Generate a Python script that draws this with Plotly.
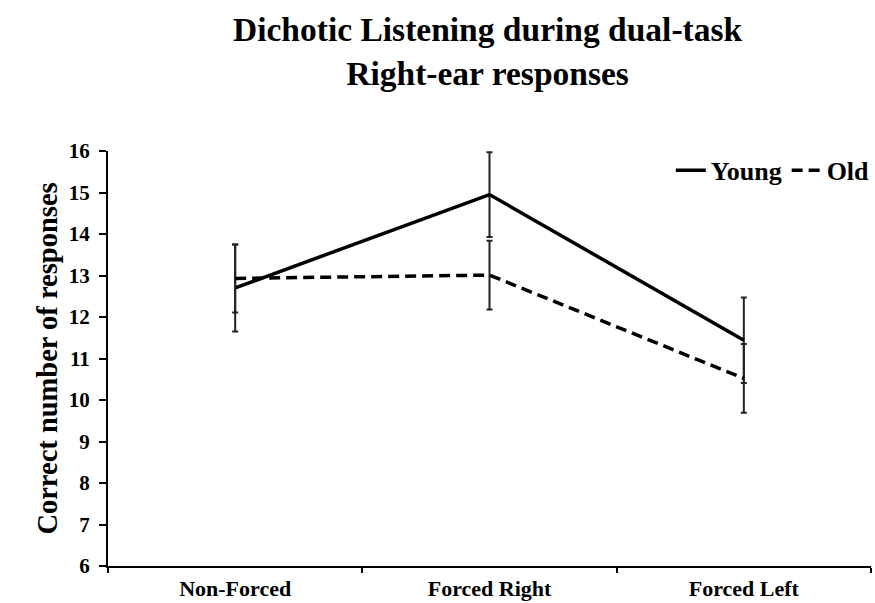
import plotly.graph_objects as go

categories = ["Non-Forced", "Forced Right", "Forced Left"]
young = [12.70, 14.95, 11.44]
young_err = [1.05, 1.02, 1.03]
old = [12.93, 13.01, 10.52]
old_err = [0.82, 0.83, 0.83]
y_ticks = list(range(6, 17))

FONT = "Liberation Serif"

fig = go.Figure()
fig.add_trace(go.Scatter(
    x=categories, y=young, name="Young", mode="lines",
    line=dict(color="black", width=3.5),
    error_y=dict(type="data", array=young_err, visible=True,
                 color="#222222", thickness=2, width=3),
))
fig.add_trace(go.Scatter(
    x=categories, y=old, name="Old", mode="lines",
    line=dict(color="black", width=3.5, dash="11px,6px"),
    error_y=dict(type="data", array=old_err, visible=True,
                 color="#222222", thickness=2, width=3),
))

fig.add_annotation(
    text="<b>Dichotic Listening during dual-task<br>Right-ear responses</b>",
    xref="paper", yref="paper", x=0.497, y=1.341,
    xanchor="center", yanchor="top", showarrow=False,
    font=dict(family=FONT, size=33.5, color="black"),
)

fig.update_layout(
    width=875, height=603,
    paper_bgcolor="white", plot_bgcolor="white",
    margin=dict(l=108, r=4, t=151, b=37, autoexpand=False),
    font=dict(family=FONT, color="black"),
    legend=dict(
        orientation="h", x=1.005, xanchor="right", y=1.010, yanchor="top",
        font=dict(family=FONT, size=26, color="black", weight="bold"),
        bgcolor="rgba(0,0,0,0)", itemwidth=30,
    ),
    showlegend=True,
)

fig.update_xaxes(
    type="category", range=[-0.5, 2.5], tickson="boundaries",
    automargin=False,
    showline=True, linecolor="black", linewidth=2,
    ticks="outside", ticklen=5, tickwidth=2, tickcolor="black",
    ticklabelstandoff=2,
    showgrid=False, zeroline=False,
    tickfont=dict(family=FONT, size=22, color="black", weight="bold"),
)
fig.update_yaxes(
    range=[6, 16], tickvals=y_ticks,
    automargin=False,
    showline=True, linecolor="black", linewidth=2,
    ticks="outside", ticklen=7, tickwidth=2, tickcolor="black",
    ticklabelstandoff=5,
    showgrid=False, zeroline=False,
    tickfont=dict(family=FONT, size=21, color="black", weight="bold"),
    title=dict(text="<b>Correct number of responses</b>", standoff=3,
               font=dict(family=FONT, size=28.5, color="black")),
)

fig.write_html("out.html", config={"displayModeBar": False},
               post_script="document.body.style.margin='0px';")
